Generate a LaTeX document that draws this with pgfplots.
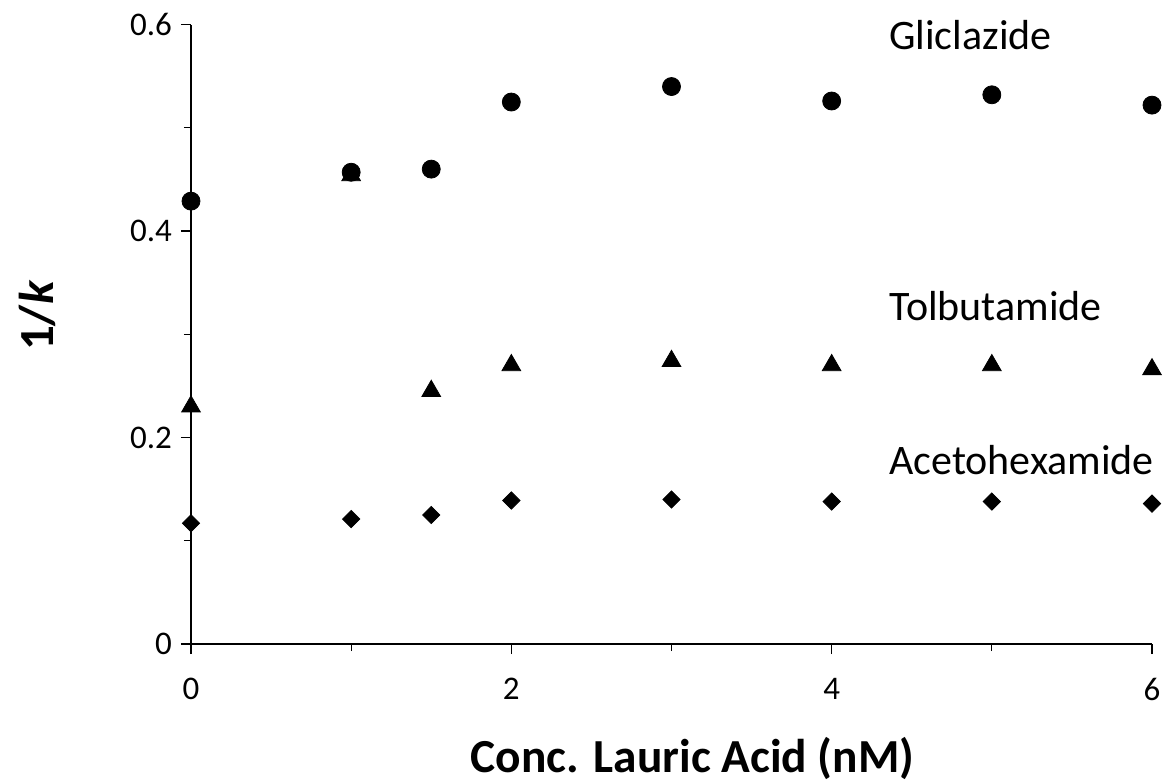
\documentclass[border=0pt]{standalone}
\usepackage{pgfplots}
\pgfplotsset{compat=1.18}
\usepackage{fontspec}
\setmainfont{Carlito}
\begin{document}
\begin{tikzpicture}
\begin{axis}[
  at={(0pt,0pt)}, anchor=south west,
  scale only axis, width=480.5pt, height=309.7pt,
  xmin=0, xmax=6, ymin=0, ymax=0.6,
  axis lines=left,
  axis line style={-, line width=0.6pt, black},
  xtick={0,2,4,6}, minor xtick={1,3,5},
  ytick={0,0.2,0.4,0.6}, minor ytick={0.1,0.3,0.5},
  tick align=outside, major tick length=5pt, minor tick length=3.5pt,
  every tick/.style={black, line width=0.6pt},
  /pgf/number format/assume math mode=true,
  ticklabel style={font=\fontsize{16.5}{19}\selectfont},
  xticklabel style={yshift=-8.5pt},
  yticklabel style={/pgf/number format/fixed, xshift=-1pt},
  clip=false,
  every axis x label/.style={at={(rel axis cs:0.522,-0.2067)}, anchor=base, font=\fontsize{23.7}{28}\selectfont\bfseries},
  every axis y label/.style={at={(rel axis cs:-0.160,0.530)}, rotate=90, anchor=center, font=\fontsize{24.5}{29}\selectfont\bfseries},
  xlabel={Conc. Lauric Acid (nM)},
  ylabel={1/\textit{k}},
]
\addplot[only marks, mark=square*, mark size=3.05pt, mark options={rotate=45, fill=black, draw=black}] coordinates {
(0,0.117) (1,0.121) (1.5,0.125) (2,0.139) (3,0.140) (4,0.138) (5,0.138) (6,0.136)};
\addplot[only marks, mark=triangle*, mark size=5.4pt, mark options={fill=black, draw=black}] coordinates {
(0,0.230) (1,0.454) (1.5,0.245) (2,0.270) (3,0.274) (4,0.270) (5,0.270) (6,0.266)};
\addplot[only marks, mark=*, mark size=4.5pt, mark options={fill=black, draw=black}] coordinates {
(0,0.429) (1,0.457) (1.5,0.460) (2,0.525) (3,0.540) (4,0.526) (5,0.532) (6,0.522)};
\node[anchor=base west, inner sep=0pt, font=\fontsize{21}{25}\selectfont] at (axis cs:4.357,0.576) {Gliclazide};
\node[anchor=base west, inner sep=0pt, font=\fontsize{21}{25}\selectfont] at (axis cs:4.357,0.3136) {Tolbutamide};
\node[anchor=base west, inner sep=0pt, font=\fontsize{21}{25}\selectfont] at (axis cs:4.357,0.164) {Acetohexamide};
\end{axis}
\pgfresetboundingbox
\useasboundingbox (-95.5pt,-69pt) rectangle (487pt,322pt);
\end{tikzpicture}
\end{document}
